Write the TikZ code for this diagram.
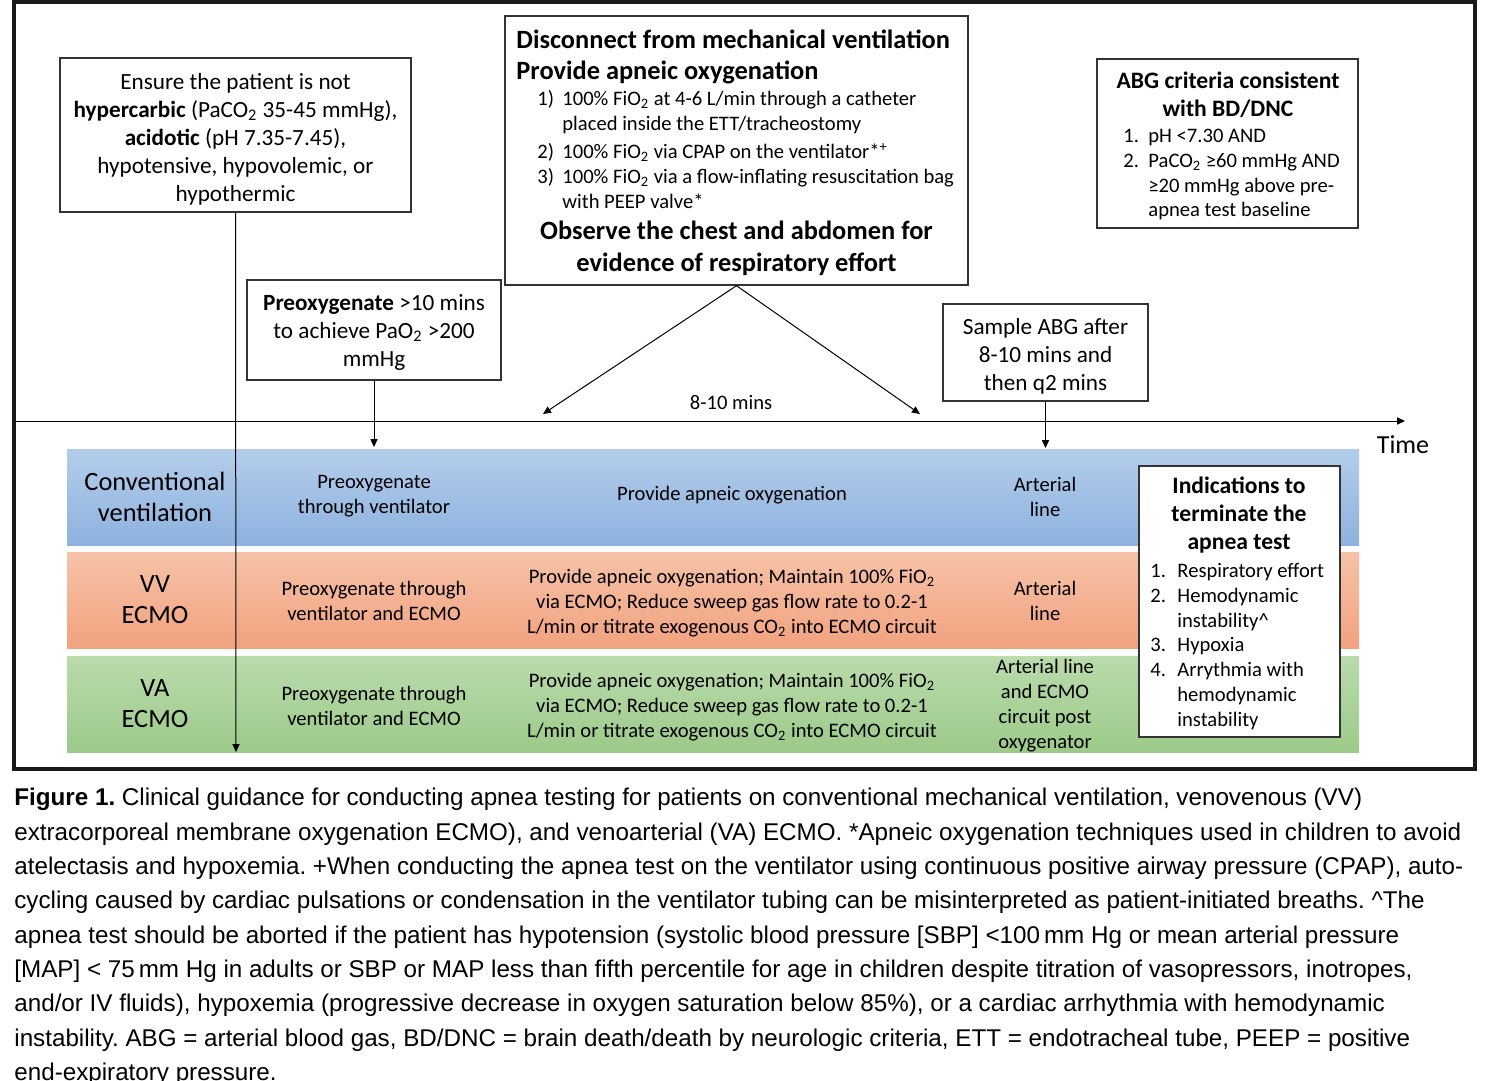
\documentclass[tikz,border=0pt]{standalone}
\usepackage{fontspec}
\setmainfont{Carlito}
\newfontfamily\capfont{Liberation Sans}
\usetikzlibrary{arrows.meta}

\newcommand{\subn}[1]{\textsubscript{#1}}

\definecolor{cvtop}{HTML}{B4CDEB}
\definecolor{cvbot}{HTML}{8DB2DE}
\definecolor{vvtop}{HTML}{F6C2A8}
\definecolor{vvbot}{HTML}{F2A27F}
\definecolor{vatop}{HTML}{BADBAC}
\definecolor{vabot}{HTML}{9CCA89}

\tikzset{
  bx/.style={draw=black!80, line width=0.7pt, fill=white, inner sep=0pt, align=center},
  band/.style={minimum width=646pt, minimum height=48pt, inner sep=0pt},
  blk/.style={inner sep=0pt, align=center},
  it/.style={inner sep=0pt, anchor=mid west, font=\fontsize{10.3}{12.5}\selectfont},
  fbig/.style={font=\fontsize{13.2}{15.5}\selectfont},
  fbigb/.style={font=\fontsize{13.2}{16}\selectfont\bfseries},
  fmid/.style={font=\fontsize{11.6}{14}\selectfont},
  fmidb/.style={font=\fontsize{11.8}{14}\selectfont\bfseries},
  fsm/.style={font=\fontsize{10.3}{12.5}\selectfont},
  arr/.style={line width=0.5pt, -{Triangle[length=4pt,width=3.6pt]}},
}

\begin{document}
\frenchspacing
\begin{tikzpicture}[x=0.5pt,y=-0.5pt]
  \useasboundingbox (0,0) rectangle (1497,1080);
  \clip (0,0) rectangle (1497,1080);
  \fill[white] (0,0) rectangle (1497,1080);

  % the three rows
  \node[band, top color=cvtop, bottom color=cvbot] (cv) at (713,497) {};
  \node[band, top color=vvtop, bottom color=vvbot] (vv) at (713,600) {};
  \node[band, top color=vatop, bottom color=vabot] (va) at (713,704) {};

  \node[blk, fbig] (cvname) at (155,497) {Conventional\\ ventilation};
  \node[blk, fbig] (vvname) at (155,600) {VV\\ ECMO};
  \node[blk, fbig] (vaname) at (155,704) {VA\\ ECMO};

  \node[blk, fsm] (cvpre) at (374,496) {Preoxygenate\\ through ventilator};
  \node[blk, fsm] (vvpre) at (374,601) {Preoxygenate through\\ ventilator and ECMO};
  \node[blk, fsm] (vapre) at (374,706) {Preoxygenate through\\ ventilator and ECMO};

  \node[blk, fsm] (cvapn) at (732,495) {Provide apneic oxygenation};
  \node[blk, fsm] (vvapn) at (732,603) {Provide apneic oxygenation; Maintain 100\% FiO\subn{2}\\ via ECMO; Reduce sweep gas flow rate to 0.2-1\\ L/min or titrate exogenous CO\subn{2} into ECMO circuit};
  \node[blk, fsm] (vaapn) at (732,707) {Provide apneic oxygenation; Maintain 100\% FiO\subn{2}\\ via ECMO; Reduce sweep gas flow rate to 0.2-1\\ L/min or titrate exogenous CO\subn{2} into ECMO circuit};

  \node[blk, fsm] (cvart) at (1045,497) {Arterial\\ line};
  \node[blk, fsm] (vvart) at (1045,601) {Arterial\\ line};
  \node[blk, fsm] (vaart) at (1045,706) {Arterial line\\ and ECMO\\ circuit post\\ oxygenator};

  % boxes above the time line
  \node[bx, fmid, minimum width=175.5pt, minimum height=77pt] (ensure) at (235.5,135)
    {\rule{0pt}{12pt}Ensure the patient is not\\ \textbf{hypercarbic} (PaCO\subn{2} 35-45 mmHg),\\ \textbf{acidotic} (pH 7.35-7.45),\\ hypotensive, hypovolemic, or\\ hypothermic};

  \node[bx, fmid, minimum width=127pt, minimum height=50pt] (preox) at (374,330)
    {\rule{0pt}{10pt}\textbf{Preoxygenate} >10 mins\\ to achieve PaO\subn{2} >200\\ mmHg};

  \node[bx, fmid, minimum width=102.5pt, minimum height=48.5pt] (sample) at (1045.5,352.5)
    {\rule{0pt}{12pt}Sample ABG after\\ 8-10 mins and\\ then q2 mins};

  \node[bx, minimum width=231.5pt, minimum height=134.5pt] (disc) at (736.5,150.5) {};
  \node[fbigb, inner sep=0pt, anchor=mid west] (discA) at (516,44) {Disconnect from mechanical ventilation};
  \node[fbigb, inner sep=0pt, anchor=mid west] (discB) at (516,75) {Provide apneic oxygenation};
  \foreach \k/\yy in {1/101,2/154,3/179}
    \node[it] (dnum\k) at (537,\yy) {\k)};
  \node[it] (ditem1) at (562,101) {100\% FiO\subn{2} at 4-6 L/min through a catheter};
  \node[it] (ditem1b) at (562,126) {placed inside the ETT/tracheostomy};
  \node[it] (ditem2) at (562,154) {100\% FiO\subn{2} via CPAP on the ventilator*\textsuperscript{+}};
  \node[it] (ditem3) at (562,179) {100\% FiO\subn{2} via a flow-inflating resuscitation bag};
  \node[it] (ditem3b) at (562,204) {with PEEP valve*};
  \node[blk, fbigb] (discC) at (736.5,248) {Observe the chest and abdomen for\\ evidence of respiratory effort};

  \node[bx, minimum width=130.5pt, minimum height=84.5pt] (abg) at (1227.5,143.5) {};
  \node[blk, fmidb] (abgT) at (1228,95) {ABG criteria consistent\\ with BD/DNC};
  \node[it] (anum1) at (1123,138) {1.};
  \node[it] (anum2) at (1123,163) {2.};
  \node[it] (aitem1) at (1148,138) {pH <7.30 AND};
  \node[it] (aitem2) at (1148,163) {PaCO\subn{2} ≥60 mmHg AND};
  \node[it] (aitem2b) at (1148,188) {≥20 mmHg above pre-};
  \node[it] (aitem2c) at (1148,212) {apnea test baseline};

  % time line
  \coordinate (tl) at (14,421);
  \coordinate (tr) at (1405,421);
  \draw[arr] (tl) -- (tr);
  \node[inner sep=0pt, font=\fontsize{13}{15}\selectfont] (time) at (1403,445) {Time};

  \coordinate (t1) at (543,414);
  \coordinate (t2) at (920,414);
  \draw[arr] (disc.south) -- (t1);
  \draw[arr] (disc.south) -- (t2);
  \node[fsm, inner sep=0pt] (span) at (731,402) {8-10 mins};

  \coordinate (pe) at (374,447);
  \coordinate (se) at (1045.5,448);
  \draw[arr] (preox.south) -- (pe);
  \draw[arr] (sample.south) -- (se);

  \coordinate (vend) at (236,752);
  \draw[arr] (ensure.south) -- (vend);

  % stop criteria
  \node[bx, minimum width=100.5pt, minimum height=135.5pt] (ind) at (1239.5,601.5) {};
  \node[blk, fmidb] (indT) at (1239,515) {Indications to\\ terminate the\\ apnea test};
  \foreach \k/\yy in {1/573,2/598,3/647,4/672}
    \node[it] (inum\k) at (1150,\yy) {\k.};
  \node[it] (iitem1) at (1177,573) {Respiratory effort};
  \node[it] (iitem2) at (1177,598) {Hemodynamic};
  \node[it] (iitem2b) at (1177,623) {instability\textasciicircum};
  \node[it] (iitem3) at (1177,647) {Hypoxia};
  \node[it] (iitem4) at (1177,672) {Arrythmia with};
  \node[it] (iitem4b) at (1177,697) {hemodynamic};
  \node[it] (iitem4c) at (1177,722) {instability};

  % frame
  \draw[line width=2pt, black!90] (14,2) rectangle (1475,769);

  % caption
  \node[anchor=north west, inner sep=0pt, align=left, font=\capfont\fontsize{12.1}{17.15}\selectfont] (cap) at (14,788)
    {\textbf{Figure 1.} Clinical guidance for conducting apnea testing for patients on conventional mechanical ventilation, venovenous (VV)\\
     extracorporeal membrane oxygenation ECMO), and venoarterial (VA) ECMO. *Apneic oxygenation techniques used in children to avoid\\
     atelectasis and hypoxemia. +When conducting the apnea test on the ventilator using continuous positive airway pressure (CPAP), auto-\\
     cycling caused by cardiac pulsations or condensation in the ventilator tubing can be misinterpreted as patient-initiated breaths. \textasciicircum The\\
     apnea test should be aborted if the patient has hypotension (systolic blood pressure [SBP] <100\,mm Hg or mean arterial pressure\\
     {[MAP]} < 75\,mm Hg in adults or SBP or MAP less than fifth percentile for age in children despite titration of vasopressors, inotropes,\\
     and/or IV fluids), hypoxemia (progressive decrease in oxygen saturation below 85\%), or a cardiac arrhythmia with hemodynamic\\
     instability. ABG = arterial blood gas, BD/DNC = brain death/death by neurologic criteria, ETT = endotracheal tube, PEEP = positive\\
     end-expiratory pressure.};
\end{tikzpicture}
\end{document}
